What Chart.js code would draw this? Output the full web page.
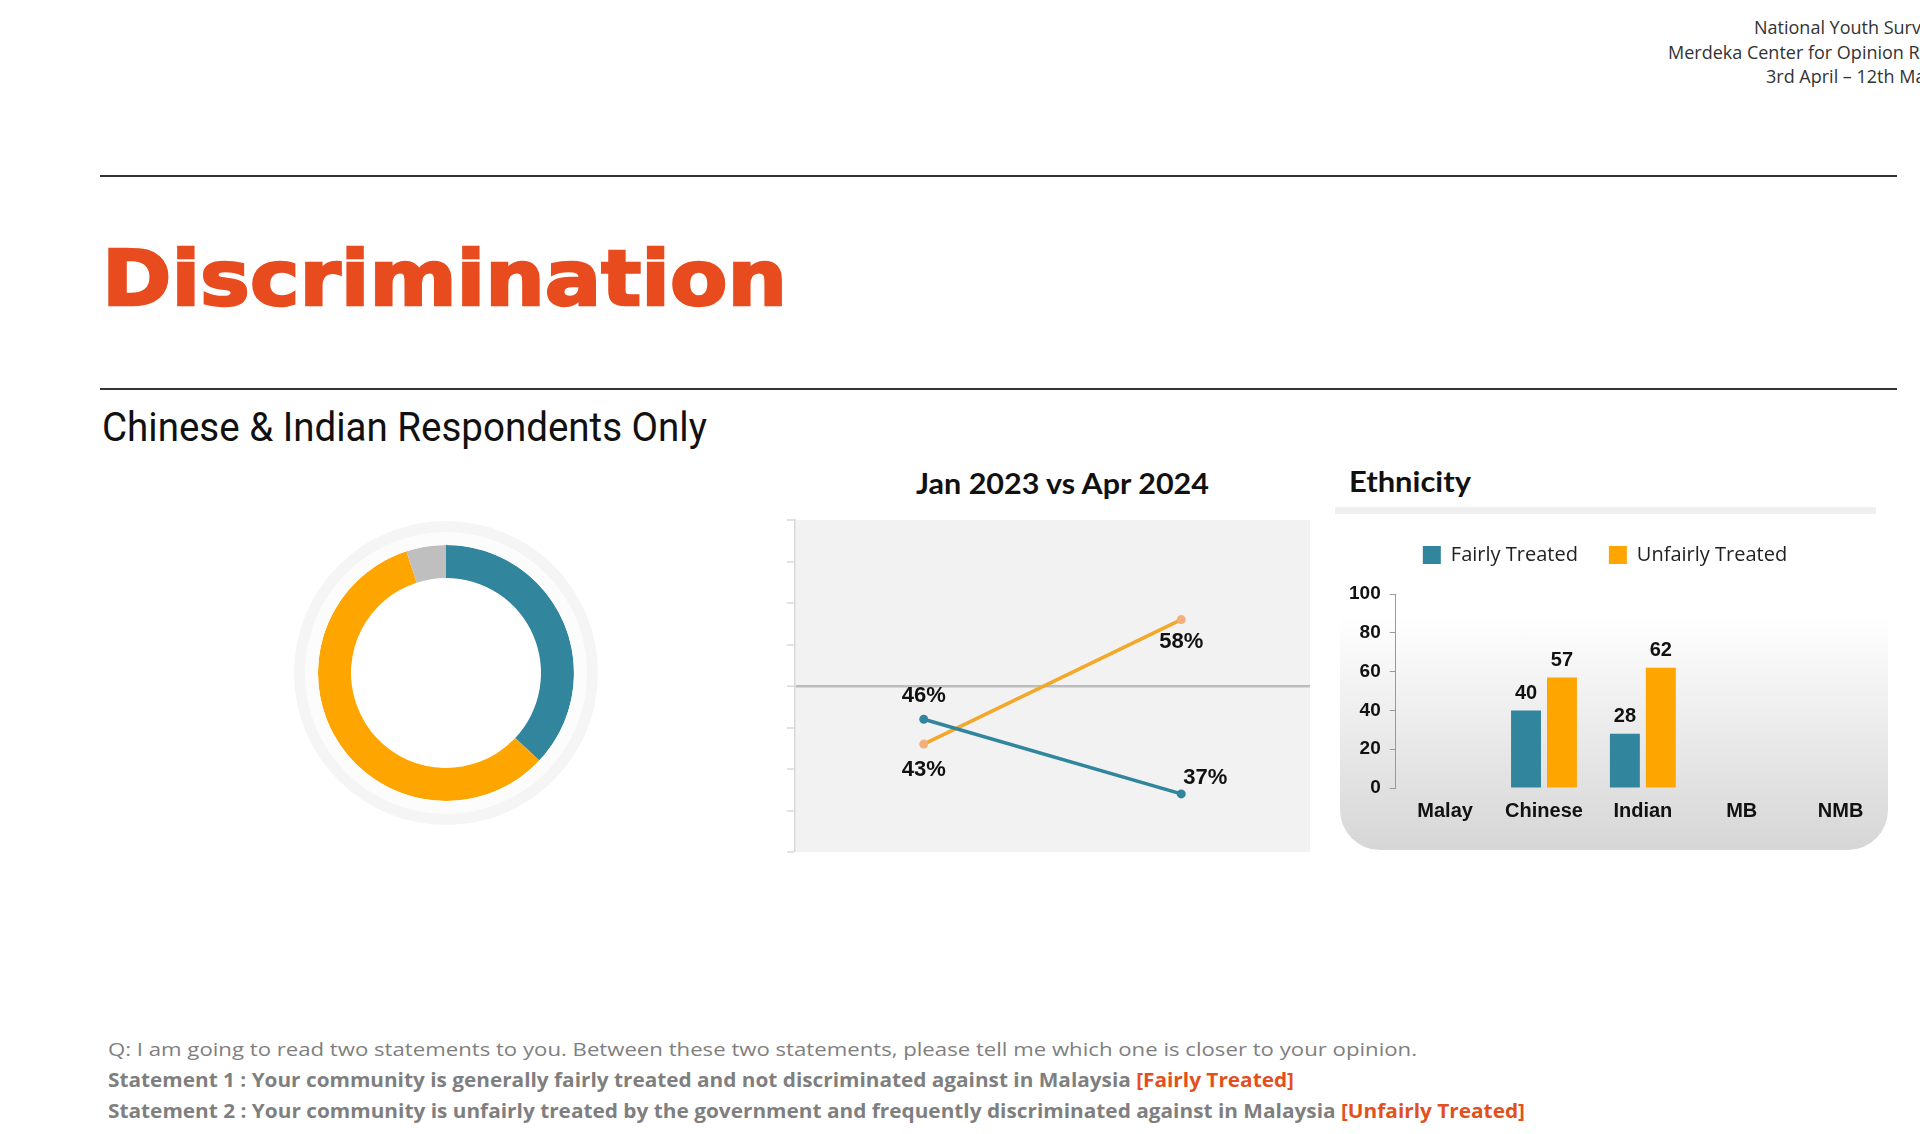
<!DOCTYPE html>
<html lang="en">
<head>
  <meta charset="UTF-8">
  <title>Discrimination</title>
  <script src="https://cdn.jsdelivr.net/npm/chart.js"></script>
  <style>
    html, body {
      margin: 0;
      padding: 0;
    }

    body {
      width: 1920px;
      height: 1134px;
      position: relative;
      overflow: hidden;
      background: #fff;
      font-family: "Open Sans", sans-serif;
    }

    .abs {
      position: absolute;
      white-space: nowrap;
      line-height: 1;
      transform-origin: left center;
    }

    .rule {
      position: absolute;
      left: 100px;
      width: 1797px;
      height: 1.5px;
      background: #333;
    }

    .source {
      font-size: 18px;
      color: #333;
    }

    .title {
      left: 102px;
      top: 241px;
      font-family: "DejaVu Sans", sans-serif;
      font-weight: bold;
      font-size: 76px;
      color: #E84C1E;
      -webkit-text-stroke: 2.5px #E84C1E;
    }

    .subtitle {
      left: 102px;
      top: 407px;
      font-family: Roboto, sans-serif;
      font-size: 41px;
      color: #111;
    }

    .chart-title {
      font-family: Lato, sans-serif;
      font-weight: bold;
      font-size: 29px;
      color: #111;
    }

    .note {
      left: 108px;
      font-size: 19px;
      color: #7f7f7f;
    }

    .note b { font-weight: bold; }
    .note .tag { color: #E2501E; }

    .box {
      position: absolute;
    }

    #panel {
      position: absolute;
      left: 1340px;
      top: 514px;
      width: 548px;
      height: 336px;
      border-radius: 40px;
      background: linear-gradient(to bottom, #ffffff 0%, #ffffff 30%, #d6d6d6 100%);
    }

    #panel-bar {
      position: absolute;
      left: 1335px;
      top: 507px;
      width: 541px;
      height: 7px;
      background: #efefef;
    }
  </style>
</head>
<body>

  <!-- source lines, cut off at the right edge like the slide -->
  <div class="abs source" style="left:1754px; top:18px;">National Youth Survey 2024</div>
  <div class="abs source" style="left:1668px; top:43px;">Merdeka Center for Opinion Research</div>
  <div class="abs source" style="left:1766px; top:67px;">3rd April – 12th May 2024</div>

  <div class="rule" style="top:175px;"></div>
  <div class="abs title" data-w="685">Discrimination</div>
  <div class="rule" style="top:388px;"></div>
  <div class="abs subtitle" data-w="605">Chinese &amp; Indian Respondents Only</div>

  <div class="abs chart-title" style="left:916px; top:468px;" data-w="293">Jan 2023 vs Apr 2024</div>
  <div class="abs chart-title" style="left:1349px; top:466px;" data-w="122">Ethnicity</div>

  <div id="panel-bar"></div>
  <div id="panel"></div>

  <div class="box" style="left:294px; top:521px; width:304px; height:304px;">
    <canvas id="donutChart"></canvas>
  </div>
  <div class="box" style="left:780px; top:500px; width:540px; height:370px;">
    <canvas id="trendChart"></canvas>
  </div>
  <div class="box" style="left:1340px; top:514px; width:552px; height:336px;">
    <canvas id="ethnicChart"></canvas>
  </div>

  <div class="abs note" style="top:1040px;" data-w="1309">Q: I am going to read two statements to you. Between these two statements, please tell me which one is closer to your opinion.</div>
  <div class="abs note" style="top:1071px;" data-w="1186"><b>Statement 1 : Your community is generally fairly treated and not discriminated against in Malaysia <span class="tag">[Fairly Treated]</span></b></div>
  <div class="abs note" style="top:1102px;" data-w="1417"><b>Statement 2 : Your community is unfairly treated by the government and frequently discriminated against in Malaysia <span class="tag">[Unfairly Treated]</span></b></div>

  <script>
    // Donut: Apr 2024 split
    const donutLabels = ['Fairly Treated', 'Unfairly Treated', 'Others'];
    const donutValues = [37, 58, 5];

    // Jan 2023 vs Apr 2024
    const trendLabels = ['Jan 2023', 'Apr 2024'];
    const trendFairly = [46, 37];
    const trendUnfairly = [43, 58];

    // Ethnicity breakdown
    const ethnicLabels = ['Malay', 'Chinese', 'Indian', 'MB', 'NMB'];
    const ethnicFairly = [null, 40, 28, null, null];
    const ethnicUnfairly = [null, 57, 62, null, null];

    const TEAL = '#31859C';
    const ORANGE = '#FFA500';
    const LINE_ORANGE = '#F4A82A';

    Chart.defaults.animation = false;
    Chart.defaults.responsive = true;
    Chart.defaults.maintainAspectRatio = false;
    Chart.defaults.plugins.tooltip.enabled = false;

    // fill the plot area of the trend chart
    const plotBackground = {
      id: 'plotBackground',
      beforeDraw(chart) {
        const { ctx, chartArea } = chart;
        ctx.save();
        ctx.fillStyle = '#f2f2f2';
        ctx.fillRect(chartArea.left, chartArea.top, chartArea.right - chartArea.left, chartArea.bottom - chartArea.top);
        ctx.restore();
      }
    };

    // percent labels next to the trend points
    const pointLabels = {
      id: 'pointLabels',
      afterDatasetsDraw(chart) {
        const ctx = chart.ctx;
        ctx.save();
        ctx.font = 'bold 22px "Liberation Sans", Arial, sans-serif';
        ctx.fillStyle = '#111';
        ctx.textAlign = 'center';
        ctx.textBaseline = 'middle';
        chart.data.datasets.forEach((ds, i) => {
          chart.getDatasetMeta(i).data.forEach((pt, j) => {
            const off = ds.labelOffsets[j];
            ctx.fillText(ds.data[j] + '%', pt.x + off[0], pt.y + off[1]);
          });
        });
        ctx.restore();
      }
    };

    // values on top of the ethnicity bars
    const barLabels = {
      id: 'barLabels',
      afterDatasetsDraw(chart) {
        const ctx = chart.ctx;
        ctx.save();
        ctx.font = 'bold 20px "Liberation Sans", Arial, sans-serif';
        ctx.fillStyle = '#111';
        ctx.textAlign = 'center';
        ctx.textBaseline = 'middle';
        chart.data.datasets.forEach((ds, i) => {
          chart.getDatasetMeta(i).data.forEach((bar, j) => {
            if (ds.data[j] == null) return;
            ctx.fillText(ds.data[j], bar.x, bar.y - 17);
          });
        });
        ctx.restore();
      }
    };

    // extra room under the legend, and nudge it a little to the left
    const legendGap = {
      id: 'legendGap',
      beforeInit(chart) {
        const fit = chart.legend.fit;
        chart.legend.fit = function () {
          fit.bind(chart.legend)();
          this.height += 19;
        };
      },
      afterLayout(chart) {
        chart.legend.left -= 10;
        chart.legend.right -= 10;
      }
    };

    new Chart(document.getElementById('donutChart'), {
      type: 'doughnut',
      data: {
        labels: donutLabels,
        datasets: [
          { data: [1], backgroundColor: ['#f5f5f5'], borderWidth: 0, weight: 11 },
          { data: [1], backgroundColor: ['#fcfcfc'], borderWidth: 0, weight: 13 },
          { data: donutValues, backgroundColor: [TEAL, ORANGE, '#BFBFBF'], borderWidth: 0, weight: 33 }
        ]
      },
      options: {
        cutout: '62.5%',
        layout: { padding: 0 },
        plugins: { legend: { display: false } }
      }
    });

    new Chart(document.getElementById('trendChart'), {
      type: 'line',
      data: {
        labels: trendLabels,
        datasets: [
          {
            label: 'Fairly Treated',
            data: trendFairly,
            borderColor: TEAL,
            backgroundColor: TEAL,
            pointBackgroundColor: TEAL,
            borderWidth: 3.5,
            pointRadius: 4.5,
            pointBorderWidth: 0,
            labelOffsets: [[0, -23], [24, -16]]
          },
          {
            label: 'Unfairly Treated',
            data: trendUnfairly,
            borderColor: LINE_ORANGE,
            backgroundColor: LINE_ORANGE,
            pointBackgroundColor: '#F5B07A',
            borderWidth: 3.5,
            pointRadius: 4.5,
            pointBorderWidth: 0,
            labelOffsets: [[0, 26], [0, 22]]
          }
        ]
      },
      options: {
        layout: { padding: { left: 7, top: 20, right: 10, bottom: 18 } },
        plugins: { legend: { display: false } },
        scales: {
          x: { type: 'category', offset: true, display: false },
          y: {
            min: 30,
            max: 70,
            ticks: { stepSize: 5, display: false },
            border: { color: '#d9d9d9', width: 1.5 },
            grid: {
              color: ctx => ctx.tick && ctx.tick.value === 50 ? '#bdbdbd' : 'rgba(0,0,0,0)',
              lineWidth: ctx => ctx.tick && ctx.tick.value === 50 ? 2.5 : 0,
              tickColor: '#d9d9d9',
              tickWidth: 1.5,
              tickLength: 8
            }
          }
        }
      },
      plugins: [plotBackground, pointLabels]
    });

    new Chart(document.getElementById('ethnicChart'), {
      type: 'bar',
      data: {
        labels: ethnicLabels,
        datasets: [
          { label: 'Fairly Treated', data: ethnicFairly, backgroundColor: TEAL },
          { label: 'Unfairly Treated', data: ethnicUnfairly, backgroundColor: ORANGE }
        ]
      },
      options: {
        categoryPercentage: 0.727,
        barPercentage: 0.833,
        layout: { padding: { left: 0, top: 0, right: 2, bottom: 16 } },
        plugins: {
          legend: {
            labels: {
              boxWidth: 18,
              boxHeight: 18,
              padding: 31,
              color: '#222',
              font: { family: '"Open Sans"', size: 20 }
            }
          }
        },
        scales: {
          x: {
            grid: { display: false, drawTicks: false },
            border: { display: false },
            ticks: {
              padding: 11,
              color: '#111',
              font: { family: '"Liberation Sans", Arial', size: 20, weight: 'bold' }
            }
          },
          y: {
            min: 0,
            max: 100,
            ticks: {
              stepSize: 20,
              padding: 9,
              color: '#111',
              font: { family: '"Liberation Sans", Arial', size: 19, weight: 'bold' }
            },
            border: { color: '#999', width: 1 },
            grid: { drawOnChartArea: false, tickColor: '#999', tickLength: 6 }
          }
        }
      },
      plugins: [legendGap, barLabels]
    });

    // squeeze each text line to the width it has on the slide
    function fitText() {
      document.querySelectorAll('[data-w]').forEach(el => {
        el.style.transform = 'none';
        const w = el.getBoundingClientRect().width;
        el.style.transform = 'scaleX(' + (el.dataset.w / w).toFixed(4) + ')';
      });
    }
    fitText();
    if (document.fonts) document.fonts.ready.then(fitText);
  </script>
</body>
</html>
